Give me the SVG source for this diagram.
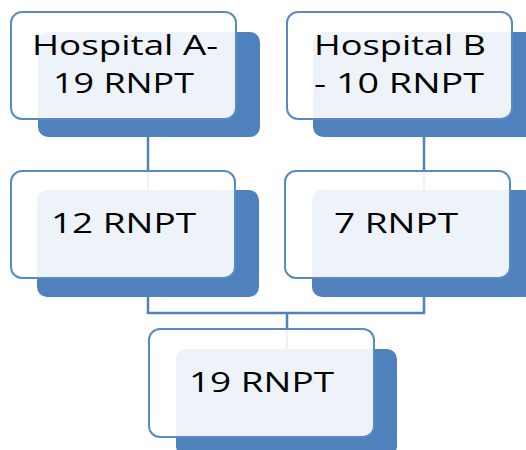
<svg xmlns="http://www.w3.org/2000/svg" width="526" height="450" viewBox="0 0 526 450">
<style>
.sh{fill:#4F81BD}
.bx{fill:#ffffff;fill-opacity:0.9;stroke:#5A8AC6;stroke-width:2}
.t{font-family:"Open Sans","Liberation Sans",sans-serif;font-size:26.5px;fill:#000}
.c{fill:none;stroke:#4F81BD;stroke-width:2.5}
</style>
<rect width="526" height="450" fill="#ffffff"/>
<g id="connectors">
<path class="c" d="M148 137V190"/>
<path class="c" d="M424 137V190"/>
<path class="c" d="M148 297V313H424V297"/>
<path class="c" d="M287 313V350"/>
</g>
<g id="nodeA">
<rect class="sh" x="38" y="32" width="222" height="105" rx="10"/>
<rect class="bx" x="11" y="12" width="225" height="107" rx="11"/>
<text class="t" x="32" y="55" textLength="186" lengthAdjust="spacingAndGlyphs">Hospital A-</text>
<text class="t" x="53" y="93" textLength="141" lengthAdjust="spacingAndGlyphs">19 RNPT</text>
</g>
<g id="nodeB">
<rect class="sh" x="313" y="32" width="222" height="105" rx="10"/>
<rect class="bx" x="287" y="12" width="225" height="107" rx="11"/>
<text class="t" x="314" y="55" textLength="172" lengthAdjust="spacingAndGlyphs">Hospital B</text>
<text class="t" x="314" y="93" textLength="170" lengthAdjust="spacingAndGlyphs">- 10 RNPT</text>
</g>
<g id="node12">
<rect class="sh" x="37" y="190" width="222" height="107" rx="10"/>
<rect class="bx" x="11" y="171" width="224" height="107" rx="11"/>
<text class="t" x="51" y="233" textLength="145" lengthAdjust="spacingAndGlyphs">12 RNPT</text>
</g>
<g id="node7">
<rect class="sh" x="312" y="190" width="222" height="107" rx="10"/>
<rect class="bx" x="285" y="171" width="225" height="107" rx="11"/>
<text class="t" x="334" y="233" textLength="124" lengthAdjust="spacingAndGlyphs">7 RNPT</text>
</g>
<g id="node19">
<rect class="sh" x="176" y="349" width="221" height="107" rx="10"/>
<rect class="bx" x="149" y="329" width="225" height="108" rx="11"/>
<text class="t" x="189" y="392" textLength="145" lengthAdjust="spacingAndGlyphs">19 RNPT</text>
</g>
</svg>
